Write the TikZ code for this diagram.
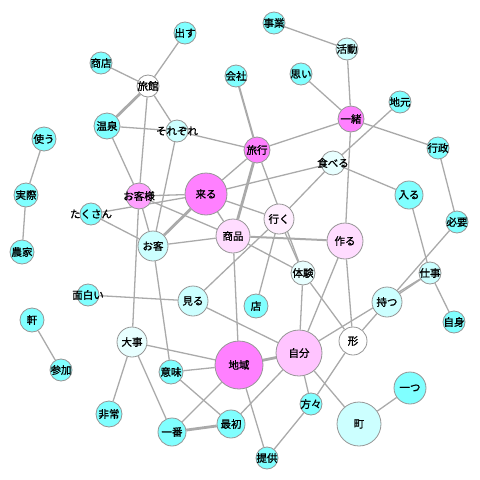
\documentclass[tikz,border=0pt]{standalone}
\usepackage{fontspec}
\newfontfamily\jpfont[FakeBold=1.2]{Noto Sans CJK JP}
\usepackage{tikz}
\definecolor{wmag}{RGB}{255,128,255}
\definecolor{wpink}{RGB}{255,160,255}
\definecolor{wrose}{RGB}{255,196,255}
\definecolor{wpale}{RGB}{255,220,255}
\definecolor{wblush}{RGB}{255,238,255}
\definecolor{wcyan}{RGB}{128,255,255}
\definecolor{wsky}{RGB}{204,255,255}
\definecolor{wmist}{RGB}{232,255,255}
\definecolor{wring}{RGB}{150,150,150}
\definecolor{wedge}{RGB}{170,170,170}
\newcommand{\wlab}[1]{\makebox[0pt]{#1}}
\usetikzlibrary{
  backgrounds
}

\begin{document}
\begin{tikzpicture}[
    x=1pt, y=-1pt,
    word/.style={
      circle, draw=wring, line width=0.8pt, fill=#1,
      inner sep=0pt, font=\jpfont\fontsize{10.5}{10.5}\selectfont, text=black
    },
    word/.default=wcyan,
    link/.style={draw=wedge, line width=1.3pt},
    heavy/.style={draw=wedge, line width=2.8pt}
  ]
  \useasboundingbox (0,0) rectangle (480,480);

  %% Upper left group
  \node[word, minimum size=22pt]         (dasu)     at (185,33)  {\wlab{出す}};
  \node[word, minimum size=22pt]         (shoten)   at (101,63)  {\wlab{商店}};
  \node[word=white, minimum size=22pt]   (ryokan)   at (148,86)  {\wlab{旅館}};
  \node[word, minimum size=26pt]         (onsen)    at (107,126) {\wlab{温泉}};
  \node[word=wsky, minimum size=22pt]    (sorezore) at (177,131) {\wlab{それぞれ}};
  \node[word, minimum size=24pt]         (tsukau)   at (44,139)  {\wlab{使う}};
  \node[word, minimum size=24pt]         (jissai)   at (26,195)  {\wlab{実際}};
  \node[word, minimum size=24pt]         (nouka)    at (22,252)  {\wlab{農家}};
  \node[word=wpink, minimum size=26pt]   (okyakusama) at (139,196) {\wlab{お客様}};
  \node[word, minimum size=22pt]         (takusan)  at (91,214)  {\wlab{たくさん}};
  \node[word=wmag, minimum size=42pt]    (kuru)     at (206,194) {\wlab{来る}};
  \node[word=wsky, minimum size=30pt]    (okyaku)   at (153,246) {\wlab{お客}};
  \node[word=wpale, minimum size=34pt]   (shouhin)  at (233,236) {\wlab{商品}};

  %% Upper right group
  \node[word, minimum size=22pt]         (kaisha)   at (236,76)  {\wlab{会社}};
  \node[word, minimum size=22pt]         (jigyou)   at (274,23)  {\wlab{事業}};
  \node[word=wsky, minimum size=22pt]    (katsudou) at (347,49)  {\wlab{活動}};
  \node[word, minimum size=22pt]         (omoi)     at (301,74)  {\wlab{思い}};
  \node[word=wmag, minimum size=26pt]    (issho)    at (351,119) {\wlab{一緒}};
  \node[word, minimum size=22pt]         (jimoto)   at (400,102) {\wlab{地元}};
  \node[word=wmag, minimum size=26pt]    (ryokou)   at (257,150) {\wlab{旅行}};
  \node[word=wmist, minimum size=24pt]   (taberu)   at (333,163) {\wlab{食べる}};
  \node[word, minimum size=22pt]         (gyousei)  at (438,148) {\wlab{行政}};
  \node[word, minimum size=28pt]         (hairu)    at (409,195) {\wlab{入る}};
  \node[word, minimum size=22pt]         (hitsuyou) at (457,222) {\wlab{必要}};
  \node[word=wblush, minimum size=30pt]  (iku)      at (279,219) {\wlab{行く}};
  \node[word=wpale, minimum size=36pt]   (tsukuru)  at (345,241) {\wlab{作る}};
  \node[word=wmist, minimum size=24pt]   (taiken)   at (303,273) {\wlab{体験}};
  \node[word=wsky, minimum size=22pt]    (shigoto)  at (430,273) {\wlab{仕事}};
  \node[word=wsky, minimum size=30pt]    (motsu)    at (387,302) {\wlab{持つ}};
  \node[word, minimum size=22pt]         (jishin)   at (454,322) {\wlab{自身}};

  %% Lower group
  \node[word, minimum size=22pt]         (omoshiroi) at (88,295) {\wlab{面白い}};
  \node[word=wsky, minimum size=30pt]    (miru)     at (193,301) {\wlab{見る}};
  \node[word, minimum size=24pt]         (mise)     at (256,306) {\wlab{店}};
  \node[word, minimum size=24pt]         (ken)      at (32,320)  {\wlab{軒}};
  \node[word=wmist, minimum size=30pt]   (daiji)    at (132,342) {\wlab{大事}};
  \node[word, minimum size=22pt]         (sanka)    at (61,370)  {\wlab{参加}};
  \node[word, minimum size=24pt]         (imi)      at (171,372) {\wlab{意味}};
  \node[word=wmag, minimum size=48pt]    (chiiki)   at (239,365) {\wlab{地域}};
  \node[word=wrose, minimum size=46pt]   (jibun)    at (299,353) {\wlab{自分}};
  \node[word=white, minimum size=28pt]   (katachi)  at (353,341) {\wlab{形}};
  \node[word, minimum size=22pt]         (katagata) at (311,404) {\wlab{方々}};
  \node[word, minimum size=32pt]         (hitotsu)  at (410,388) {\wlab{一つ}};
  \node[word=wsky, minimum size=44pt]    (machi)    at (359,424) {\wlab{町}};
  \node[word, minimum size=26pt]         (hijou)    at (109,414) {\wlab{非常}};
  \node[word, minimum size=28pt]         (ichiban)  at (172,432) {\wlab{一番}};
  \node[word, minimum size=28pt]         (saisho)   at (231,424) {\wlab{最初}};
  \node[word, minimum size=22pt]         (teikyou)  at (267,458) {\wlab{提供}};

  \begin{scope}[on background layer]
    %% Links, upper left
    \draw[link]  (dasu) -- (ryokan);
    \draw[link]  (shoten) -- (ryokan);
    \draw[heavy] (ryokan) -- (onsen);
    \draw[link]  (ryokan) -- (sorezore);
    \draw[link]  (ryokan) -- (okyakusama);
    \draw[link]  (onsen) -- (sorezore);
    \draw[link]  (onsen) -- (okyakusama);
    \draw[link]  (sorezore) -- (ryokou);
    \draw[link]  (sorezore) -- (okyaku);
    \draw[link]  (tsukau) -- (jissai);
    \draw[link]  (jissai) -- (nouka);
    \draw[link]  (ken) -- (sanka);
    \draw[link]  (okyakusama) -- (kuru);
    \draw[link]  (takusan) -- (kuru);
    \draw[link]  (takusan) -- (okyaku);
    \draw[link]  (okyakusama) -- (okyaku);
    \draw[link]  (okyakusama) -- (daiji);
    \draw[link]  (okyakusama) -- (shouhin);
    \draw[heavy] (kuru) -- (okyaku);
    \draw[link]  (okyaku) -- (shouhin);
    \draw[link]  (okyaku) -- (imi);
    \draw[link]  (kuru) -- (ryokou);
    \draw[link]  (kuru) -- (taberu);
    \draw[link]  (kuru) -- (iku);
    \draw[link]  (kuru) -- (shouhin);

    %% Links, upper right
    \draw[link, line width=2pt] (kaisha) -- (ryokou);
    \draw[link]  (ryokou) -- (issho);
    \draw[heavy] (ryokou) -- (shouhin);
    \draw[link]  (ryokou) -- (taiken);
    \draw[link]  (iku) -- (taiken);
    \draw[link]  (jigyou) -- (katsudou);
    \draw[link]  (katsudou) -- (issho);
    \draw[link]  (omoi) -- (issho);
    \draw[link]  (issho) -- (gyousei);
    \draw[link]  (issho) -- (tsukuru);
    \draw[link]  (taberu) -- (jimoto);
    \draw[link]  (taberu) -- (iku);
    \draw[link]  (taberu) -- (hairu);
    \draw[link]  (gyousei) -- (hitsuyou);
    \draw[link]  (hairu) -- (shigoto);
    \draw[link]  (hitsuyou) -- (motsu);
    \draw[link]  (shigoto) -- (motsu);
    \draw[link]  (shigoto) -- (jibun);
    \draw[link]  (shigoto) -- (jishin);
    \draw[link]  (motsu) -- (katachi);

    %% Links, middle and lower
    \draw[link]  (iku) -- (miru);
    \draw[link]  (iku) -- (mise);
    \draw[link, line width=2pt] (shouhin) -- (tsukuru);
    \draw[link]  (shouhin) -- (taiken);
    \draw[link]  (shouhin) -- (chiiki);
    \draw[link]  (tsukuru) -- (jibun);
    \draw[link]  (tsukuru) -- (katachi);
    \draw[link]  (taiken) -- (jibun);
    \draw[link]  (taiken) -- (katachi);
    \draw[link]  (omoshiroi) -- (miru);
    \draw[link]  (miru) -- (jibun);
    \draw[link]  (daiji) -- (chiiki);
    \draw[link]  (daiji) -- (hijou);
    \draw[link]  (daiji) -- (ichiban);
    \draw[link]  (imi) -- (chiiki);
    \draw[link]  (imi) -- (saisho);
    \draw[link]  (chiiki) -- (ichiban);
    \draw[link]  (chiiki) -- (teikyou);
    \draw[heavy] (chiiki) -- (jibun);
    \draw[heavy] (ichiban) -- (saisho);
    \draw[link]  (saisho) -- (jibun);
    \draw[link]  (jibun) -- (katagata);
    \draw[link]  (jibun) -- (machi);
    \draw[link]  (katachi) -- (katagata);
    \draw[link]  (katagata) -- (teikyou);
    \draw[link]  (hitotsu) -- (machi);
  \end{scope}

\end{tikzpicture}
\end{document}
